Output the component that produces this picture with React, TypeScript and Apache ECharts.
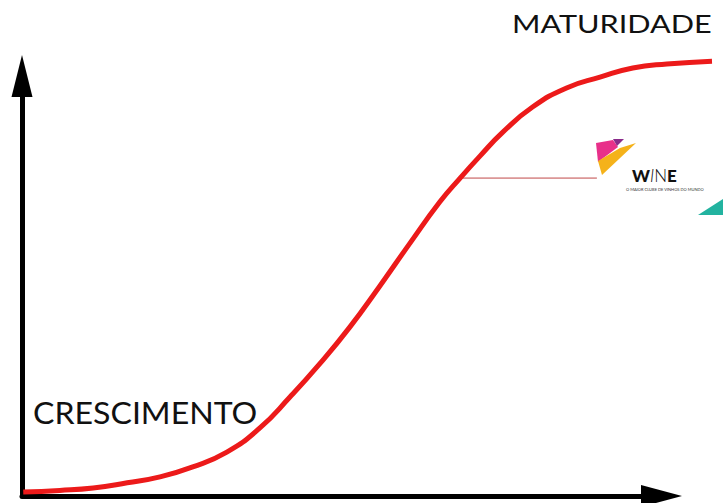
import React, { useEffect, useRef } from "react";
import * as echarts from "echarts";

// S-curve (x: time, y: growth)
const curveX = [0.2, 6.1, 11.5, 17.0, 22.3, 27.6, 33.1, 38.4, 43.3, 48.1, 53.0, 57.8, 62.7, 67.5, 70.8, 74.0, 77.7, 82.5, 88.0, 93.4, 98.7, 104.2, 111.5];
const curveY = [1.0, 1.4, 2.0, 3.3, 4.8, 7.3, 11.0, 17.0, 24.8, 33.1, 42.4, 52.6, 63.4, 73.7, 79.7, 85.2, 91.2, 97.5, 102.3, 105.0, 107.3, 108.3, 109.0];
const connectorX = [70.8, 92.9];
const connectorY = [79.7, 79.7];
const labelTop = "MATURIDADE";
const labelBottom = "CRESCIMENTO";
const logoTagline = "O MAIOR CLUBE DE VINHOS DO MUNDO";

export default function App() {
  const ref = useRef<HTMLDivElement>(null);
  useEffect(() => {
    if (!ref.current) return;
    const chart = echarts.init(ref.current, null, { renderer: "svg" });
    const curve = curveX.map((x, i) => [x, curveY[i]]);
    const connector = connectorX.map((x, i) => [x, connectorY[i]]);
    const hidden = {
      axisLabel: { show: false },
      axisTick: { show: false },
      splitLine: { show: false },
    };
    chart.setOption({
      animation: false,
      backgroundColor: "#ffffff",
      grid: [
        { left: 22, right: 82, top: 97, bottom: 7, containLabel: false },
        { left: 22, right: 11, top: 56, bottom: 7, containLabel: false },
      ],
      xAxis: [
        {
          type: "value",
          gridIndex: 0,
          min: 0,
          max: 100,
          ...hidden,
          axisLine: {
            show: true,
            lineStyle: { color: "#000", width: 5 },
            symbol: ["none", "triangle"],
            symbolSize: [22, 41],
            symbolOffset: [0, 20.5],
          },
        },
        { type: "value", gridIndex: 1, min: 0, max: 111.5, ...hidden, axisLine: { show: false } },
      ],
      yAxis: [
        {
          type: "value",
          gridIndex: 0,
          min: 0,
          max: 100,
          ...hidden,
          axisLine: {
            show: true,
            lineStyle: { color: "#000", width: 5 },
            symbol: ["none", "triangle"],
            symbolSize: [21, 42],
            symbolOffset: [0, 21],
          },
        },
        { type: "value", gridIndex: 1, min: 0, max: 110.3, ...hidden, axisLine: { show: false } },
      ],
      series: [
        {
          type: "line",
          xAxisIndex: 1,
          yAxisIndex: 1,
          data: connector,
          showSymbol: false,
          lineStyle: { color: "#c04848", width: 1 },
          z: 2,
        },
        {
          type: "line",
          xAxisIndex: 1,
          yAxisIndex: 1,
          data: curve,
          smooth: 0.5,
          showSymbol: false,
          lineStyle: { color: "#ec1a1a", width: 5 },
          z: 3,
        },
      ],
      graphic: [
        {
          type: "text",
          x: 512,
          y: 11,
          scaleX: 1.25,
          style: { text: labelTop, font: "24.5px Lato", fill: "#111", textVerticalAlign: "top" },
        },
        {
          type: "text",
          x: 33,
          y: 397,
          scaleX: 1.07,
          style: { text: labelBottom, font: "30px Lato", fill: "#111", textVerticalAlign: "top" },
        },
        {
          type: "polygon",
          shape: { points: [[596, 143], [613, 140], [618, 147], [598, 162]] },
          style: { fill: "#e8308a" },
        },
        {
          type: "polygon",
          shape: { points: [[613, 139], [624, 139], [617, 146]] },
          style: { fill: "#8a2a8a" },
        },
        {
          type: "polygon",
          shape: { points: [[598, 161], [620, 148], [636, 143], [602, 175]] },
          style: { fill: "#f5b21a" },
        },
        {
          type: "text",
          x: 632,
          y: 167,
          style: {
            text: "{a|W}{b|I}{c|N}{d|E}",
            textVerticalAlign: "top",
            rich: {
              a: { font: "900 17px Lato", fill: "#111" },
              b: { font: "italic 300 17px Lato", fill: "#111" },
              c: { font: "300 17px Lato", fill: "#111" },
              d: { font: "900 17px Lato", fill: "#111" },
            },
          },
        },
        {
          type: "text",
          x: 626,
          y: 187,
          style: { text: logoTagline, font: "4px Lato", fill: "#333", textVerticalAlign: "top" },
        },
        {
          type: "polygon",
          shape: { points: [[698, 215], [723, 199], [723, 215]] },
          style: { fill: "#22b3a0" },
        },
      ],
    });
    return () => chart.dispose();
  }, []);
  return (
    <div
      ref={ref}
      style={{ position: "fixed", left: 0, top: 0, width: 723, height: 503, background: "#fff" }}
    />
  );
}
